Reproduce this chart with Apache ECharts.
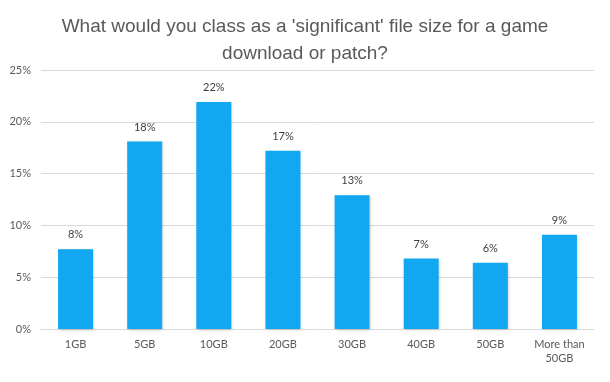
<!DOCTYPE html>
<html><head><meta charset="utf-8">
<script src="https://cdn.jsdelivr.net/npm/echarts@6/dist/echarts.min.js"></script>
<style>html,body{margin:0;padding:0;background:#fff}#c{width:610px;height:382px}</style>
</head><body><div id="c"></div>
<script>
const titleText = "What would you class as a 'significant' file size for a game\ndownload or patch?";
const categories = ["1GB","5GB","10GB","20GB","30GB","40GB","50GB","More than\n50GB"];
const values = [7.7, 18.1, 21.9, 17.2, 12.9, 6.8, 6.4, 9.1];
const yTicks = {min: 0, max: 25, interval: 5};

const chart = echarts.init(document.getElementById('c'), null, {renderer: 'canvas'});
chart.setOption({
  animation: false,
  backgroundColor: '#ffffff',
  title: {
    text: titleText, left: 'center', top: 8,
    textStyle: {fontFamily: 'Liberation Sans, Arial', fontSize: 19, fontWeight: 'normal', color: '#595959', lineHeight: 27}
  },
  grid: {left: 41, right: 16, top: 70, bottom: 53},
  xAxis: {
    type: 'category', data: categories,
    axisTick: {show: false},
    axisLine: {lineStyle: {color: '#d9d9d9'}},
    axisLabel: {color: '#595959', fontFamily: 'Lato, Open Sans, sans-serif', fontSize: 11, margin: 8, lineHeight: 14, interval: 0}
  },
  yAxis: {
    type: 'value', min: yTicks.min, max: yTicks.max, interval: yTicks.interval,
    axisLine: {show: false}, axisTick: {show: false},
    splitLine: {lineStyle: {color: '#d9d9d9'}},
    axisLabel: {formatter: v => v + '%', color: '#595959', fontFamily: 'Lato, Open Sans, sans-serif', fontSize: 11, margin: 10}
  },
  series: [{
    type: 'bar', data: values, barWidth: 35,
    itemStyle: {color: '#11A8F1', shadowColor: 'rgba(0,0,0,0.2)', shadowBlur: 3, shadowOffsetX: 1, shadowOffsetY: 1},
    label: {show: true, position: 'top', distance: 9, formatter: p => Math.round(p.value) + '%', color: '#404040', fontFamily: 'Lato, Open Sans, sans-serif', fontSize: 11}
  }]
});
</script></body></html>
